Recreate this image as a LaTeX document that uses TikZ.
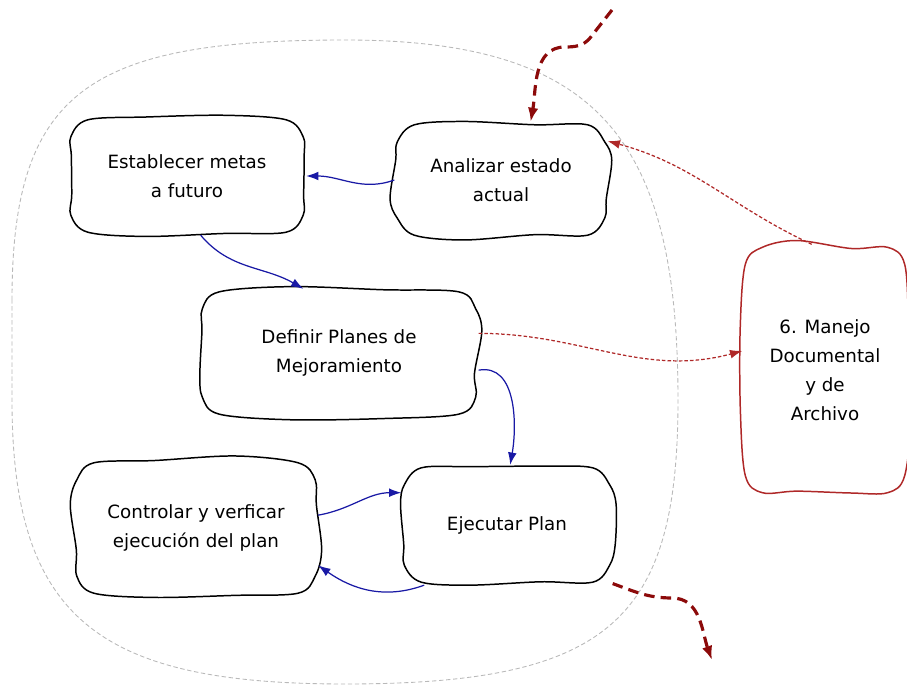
\documentclass[tikz,border=0pt]{standalone}
\usepackage{fontspec}
\setmainfont{DejaVu Sans}
\usetikzlibrary{calc,arrows.meta}
\definecolor{flowblue}{RGB}{25,25,165}
\definecolor{docred}{RGB}{175,40,40}
\definecolor{outred}{RGB}{140,10,10}

% wobbly outline round a named node
\newcommand\sketchbox[2]{%
	\draw[#2,line width=0.85pt] plot[smooth cycle,tension=0.55] coordinates {
		($(#1.north west)+(3,20)$) ($(#1.north west)+(20,3)$)
		($(#1.north west)!0.33!(#1.north east)+(0,{5*rand})$)
		($(#1.north west)!0.66!(#1.north east)+(0,{5*rand})$)
		($(#1.north east)+(-20,3)$) ($(#1.north east)+(-3,20)$)
		($(#1.north east)!0.33!(#1.south east)+({5*rand},0)$)
		($(#1.north east)!0.66!(#1.south east)+({5*rand},0)$)
		($(#1.south east)+(-3,-20)$) ($(#1.south east)+(-20,-3)$)
		($(#1.south west)!0.66!(#1.south east)+(0,{5*rand})$)
		($(#1.south west)!0.33!(#1.south east)+(0,{5*rand})$)
		($(#1.south west)+(20,-3)$) ($(#1.south west)+(3,-20)$)
		($(#1.north west)!0.66!(#1.south west)+({5*rand},0)$)
		($(#1.north west)!0.33!(#1.south west)+({5*rand},0)$)};}

\begin{document}
\pgfmathsetseed{11}
\begin{tikzpicture}[x=0.02cm,y=-0.02cm,
		thick,task node/.style={align=center,font=\fontsize{10.4}{16.5}\selectfont},
		flow/.style={-{Latex[length=7pt,width=5pt]},flowblue,line width=0.7pt},
		doc link/.style={-{Latex[length=7pt,width=5pt]},docred,line width=0.7pt,dash pattern=on 2pt off 1.2pt},
		big link/.style={-{Latex[length=8pt,width=6pt]},outred,line width=1.8pt,dash pattern=on 6pt off 3.5pt}]

		\useasboundingbox (0,0) rectangle (907,686);
		% boundary of the process
		\draw[gray!55,line width=0.5pt,dash pattern=on 2.5pt off 1.5pt]
			(12,300) .. controls (12,90) and (90,40) .. (345,40)
			.. controls (600,40) and (678,140) .. (678,400)
			.. controls (678,620) and (610,684) .. (345,684)
			.. controls (100,684) and (12,620) .. (12,400) -- cycle;

		\node[task node, minimum width=4.74cm, minimum height=2.34cm] (es) at (187,176) {Establecer metas\\a futuro};
		\node[task node, minimum width=4.24cm, minimum height=2.30cm] (an) at (501,180) {Analizar estado\\actual};
		\node[task node, minimum width=5.56cm, minimum height=2.54cm] (de) at (339,353) {Definir Planes de\\Mejoramiento};
		\node[task node, minimum width=4.86cm, minimum height=2.70cm] (co) at (196,528) {Controlar y verficar\\ejecución del plan};
		\node[task node, minimum width=4.20cm, minimum height=2.38cm] (ej) at (507,525) {Ejecutar Plan};
		\node[task node, minimum width=3.28cm, minimum height=5.00cm] (ma) at (825,370) {6. Manejo\\Documental\\y de\\Archivo};

		\foreach \n in {es,an,de,co,ej} {\sketchbox{\n}{black}}
		\sketchbox{ma}{docred}

		\coordinate (entry) at (612,10);
		\coordinate (exit) at (712,660);

		\path[flow]
		(an.west) edge[out=200, in=0] (es.east)
		(es.-77) edge[out=-50, in=150] (de.119)
		(de.-7) edge[out=10, in=80] (ej.87)
		(co.6) edge[out=10, in=180] (ej.163)
		(ej.216) edge[out=200, in=-35] (co.-17);

		\path[doc link]
		(ma.96) edge[out=155, in=-15] (an.20)
		(de.8) edge[out=0, in=195] (ma.167);

		\draw[big link] (entry) -- (590,38) to[out=-130,in=0] (565,47) to[out=180,in=80] (an.63);
		\draw[big link] (ej.-29) to[out=-20,in=180] (672,598) to[out=0,in=110] (exit);
\end{tikzpicture}
\end{document}
